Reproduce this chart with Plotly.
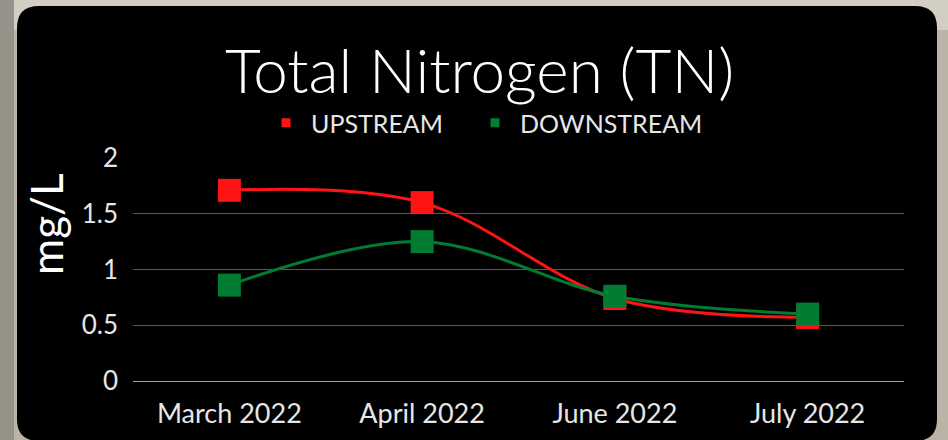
import plotly.graph_objects as go

# data
months = ['March 2022', 'April 2022', 'June 2022', 'July 2022']
upstream = [1.71, 1.60, 0.74, 0.57]
downstream = [0.86, 1.25, 0.76, 0.60]
y_ticks = [0, 0.5, 1, 1.5, 2]
y_tick_text = ['0', '0.5', '1', '1.5', '2']

RED = '#ff1414'
GREEN = '#007d32'
FONT = 'Lato'

W, H = 948, 440
L, R, T, B = 133, 44, 158, 59


def px(x):
    # page pixel -> paper x
    return (x - L) / (W - L - R)


def py(y):
    # page pixel -> paper y
    return (H - B - y) / (H - T - B)


def rounded_rect(x0, y0, x1, y1, r):
    return (f'M {px(x0 + r)},{py(y0)} L {px(x1 - r)},{py(y0)} '
            f'Q {px(x1)},{py(y0)} {px(x1)},{py(y0 + r)} '
            f'L {px(x1)},{py(y1 - r)} Q {px(x1)},{py(y1)} {px(x1 - r)},{py(y1)} '
            f'L {px(x0 + r)},{py(y1)} Q {px(x0)},{py(y1)} {px(x0)},{py(y1 - r)} '
            f'L {px(x0)},{py(y0 + r)} Q {px(x0)},{py(y0)} {px(x0 + r)},{py(y0)} Z')


fig = go.Figure()

for name, vals, col in [('UPSTREAM', upstream, RED), ('DOWNSTREAM', downstream, GREEN)]:
    fig.add_trace(go.Scatter(
        x=months, y=vals, mode='lines+markers', name=name, showlegend=False,
        line=dict(color=col, width=3, shape='spline', smoothing=1),
        marker=dict(symbol='square', size=23, color=col)))

# legend entries: small squares only, one legend box each
for name, col, lg in [('UPSTREAM', RED, 'legend'), ('DOWNSTREAM', GREEN, 'legend2')]:
    fig.add_trace(go.Scatter(
        x=[None], y=[None], mode='markers', name=name, legend=lg,
        marker=dict(symbol='square', size=9, color=col)))

shapes = [
    dict(type='rect', xref='paper', yref='paper', layer='below',
         x0=px(0), x1=px(W), y0=py(H), y1=py(0),
         fillcolor='#b9b4a6', line=dict(width=0)),
    dict(type='rect', xref='paper', yref='paper', layer='below',
         x0=px(0), x1=px(W), y0=py(30), y1=py(0),
         fillcolor='#d2cec1', line=dict(width=0)),
    dict(type='rect', xref='paper', yref='paper', layer='below',
         x0=px(0), x1=px(14), y0=py(H), y1=py(0),
         fillcolor='#96928a', line=dict(width=0)),
    dict(type='path', xref='paper', yref='paper', layer='below',
         path=rounded_rect(17, 6, 937, 441, 22),
         fillcolor='#000000', line=dict(width=0)),
]

legend_style = dict(orientation='h', xanchor='left', xref='container',
                    y=1 - 123 / H, yanchor='middle', yref='container',
                    font=dict(family=FONT, size=25, color='#e6e6e6'),
                    bgcolor='rgba(0,0,0,0)', itemwidth=40)

fig.update_layout(
    width=W, height=H,
    margin=dict(l=L, r=R, t=T, b=B, autoexpand=False),
    paper_bgcolor='#b9b4a6',
    plot_bgcolor='rgba(0,0,0,0)',
    font=dict(family=FONT, color='#f2f2f2'),
    shapes=shapes,
    title=dict(text='Total Nitrogen (TN)', x=0.506, xanchor='center',
               y=1 - 71 / H, yanchor='middle', yref='container',
               font=dict(family=FONT, size=62, color='#ffffff', weight=300)),
    legend=dict(legend_style, x=261 / W),
    legend2=dict(legend_style, x=470 / W),
    xaxis=dict(showgrid=False, showline=False, zeroline=False,
               range=[-0.5, 3.5], ticks='', ticklabelstandoff=14,
               tickfont=dict(family=FONT, size=27, color='#e6e6e6')),
    yaxis=dict(range=[0, 2], tickvals=y_ticks, ticktext=y_tick_text,
               showgrid=True, gridcolor='#595959', gridwidth=1,
               zeroline=True, zerolinecolor='#a6a6a6', zerolinewidth=1,
               showline=False, ticks='', ticklabelstandoff=14,
               tickfont=dict(family=FONT, size=26, color='#e6e6e6')),
    annotations=[dict(text='mg/L', textangle=-90, showarrow=False,
                      xref='paper', yref='paper', x=px(46), y=py(224),
                      xanchor='center', yanchor='middle',
                      font=dict(family=FONT, size=44, color='#ffffff'))],
)

fig.write_html('out.html', config={'displayModeBar': False},
               post_script='document.body.style.margin = "0";')
